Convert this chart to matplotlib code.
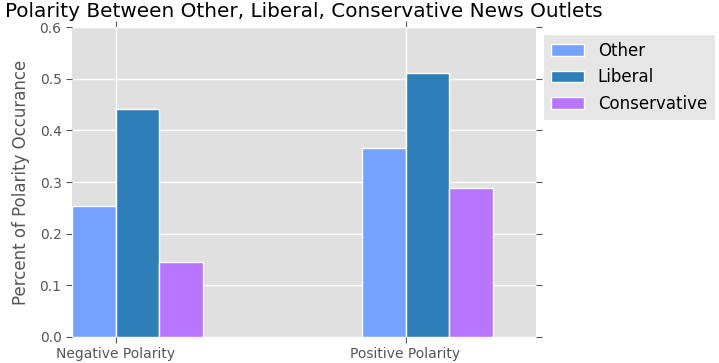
import numpy as np
import matplotlib
matplotlib.use('Agg')
import matplotlib.pyplot as plt

# data
groups = ['Negative Polarity', 'Positive Polarity']
series = ['Other', 'Liberal', 'Conservative']
other = [0.254, 0.366]
liberal = [0.442, 0.511]
conservative = [0.146, 0.289]
colors = ['#75a2ff', '#2e7fb7', '#b875ff']

plt.style.use('ggplot')
plt.rcParams['font.family'] = 'DejaVu Sans'

fig = plt.figure(figsize=(7.19, 3.63), dpi=100)
ax = fig.add_axes([72/719, 1 - 337/363, (536-72)/719, (337-27)/363])

ind = np.arange(len(groups))
width = 0.15
for i, (vals, name) in enumerate(zip([other, liberal, conservative], series)):
    ax.bar(ind + (i - 1) * width, vals, width, align='edge', color=colors[i],
           edgecolor='white', linewidth=1, label=name, zorder=2)

ax.set_xlim(-0.15, 1.45)
ax.set_ylim(0, 0.6)
ax.set_xticks(ind)
ax.set_xticklabels(groups, fontsize=10, color='#555555')
ax.set_yticks(np.arange(0, 0.61, 0.1))
ax.set_yticklabels(['%.1f' % v for v in np.arange(0, 0.61, 0.1)], fontsize=10, color='#555555')
ax.tick_params(axis='both', which='both', direction='out', length=4, color='#555555',
               top=True, right=True, bottom=True, left=True)
ax.set_facecolor('#e0e0e0')
ax.grid(True, color='white', linewidth=1, zorder=0)
ax.set_axisbelow(True)
for s in ax.spines.values():
    s.set_visible(False)

ax.set_ylabel('Percent of Polarity Occurance', fontsize=12, color='#555555', labelpad=7)
ax.set_title('Polarity Between Other, Liberal, Conservative News Outlets', fontsize=14.4,
             color='black', pad=7)

leg = ax.legend(loc='upper left', bbox_to_anchor=(1.0, 1.0), fontsize=12, frameon=True,
                facecolor='#e0e0e0', edgecolor='#e0e0e0', fancybox=False)

fig.savefig('out.png', dpi=100, facecolor='white')
